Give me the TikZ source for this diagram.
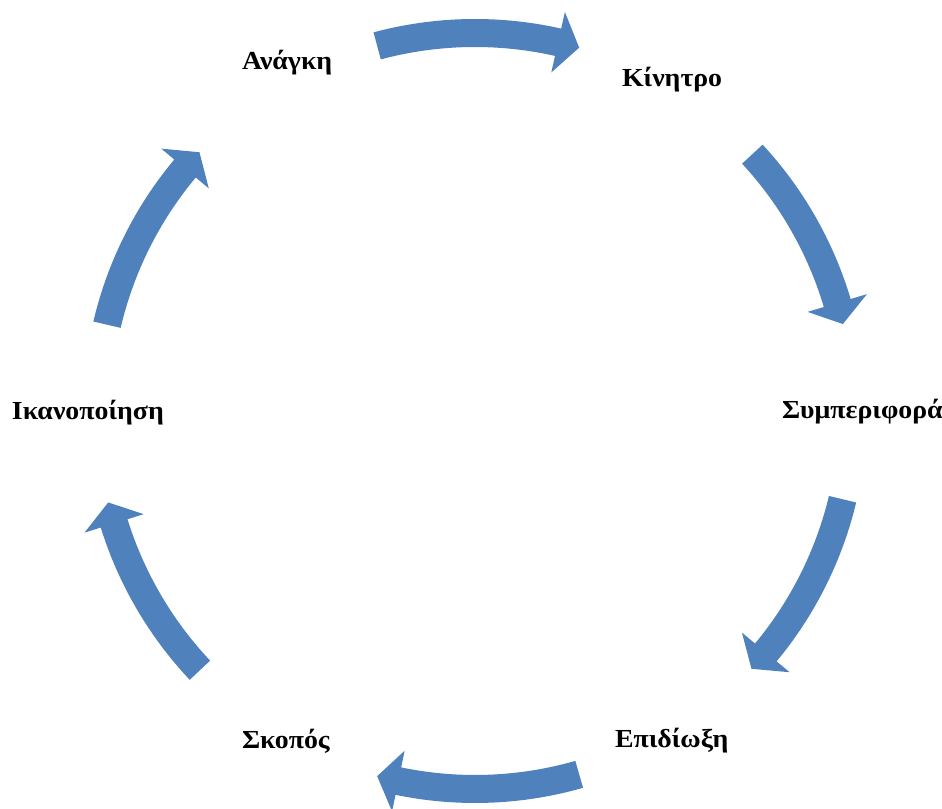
\documentclass[tikz,border=0pt]{standalone}
\usepackage{fontspec}
\setmainfont[FakeStretch=1.07]{Liberation Serif}
\definecolor{cycleblue}{RGB}{79,129,189}
\tikzset{
  lbl/.style={inner sep=0pt, outer sep=0pt, anchor=base west, font=\fontsize{19.5}{22}\selectfont\bfseries},
  cyc/.style={fill=cycleblue, draw=none}
}
% #1 tail angle, #2 tip angle (clockwise, #1 > #2)
\newcommand{\cycarrow}[2]{%
  \pgfmathsetmacro{\hb}{#2+3.3}%
  \fill[cyc] (#1:392) arc[start angle=#1, end angle=\hb, radius=392]
    -- (\hb:409) -- (#2:378) -- (\hb:347)
    -- (\hb:364) arc[start angle=\hb, end angle=#1, radius=364] -- cycle;%
}
\begin{document}
\begin{tikzpicture}[x=0.75pt,y=0.75pt]
\useasboundingbox (0,0) rectangle (942,809);
% labels
\node[lbl] (anagki) at (242,{809-70}) {Ανάγκη};
\node[lbl] (kinitro) at (622,{809-87}) {Κίνητρο};
\node[lbl] (symper) at (782,{809-419}) {Συμπεριφορά};
\node[lbl] (epidioxi) at (615,{809-748}) {Επιδίωξη};
\node[lbl] (skopos) at (242,{809-749}) {Σκοπός};
\node[lbl] (ikanop) at (12,{809-420}) {Ικανοποίηση};
% arrows
\begin{scope}[shift={(475,398)}]
\cycarrow{105}{74}
\cycarrow{42.8}{13.3}
\cycarrow{-13.5}{-43}
\cycarrow{-74}{-105}
\cycarrow{-136.7}{-166}
\cycarrow{166.8}{136.8}
\end{scope}
\end{tikzpicture}
\end{document}
